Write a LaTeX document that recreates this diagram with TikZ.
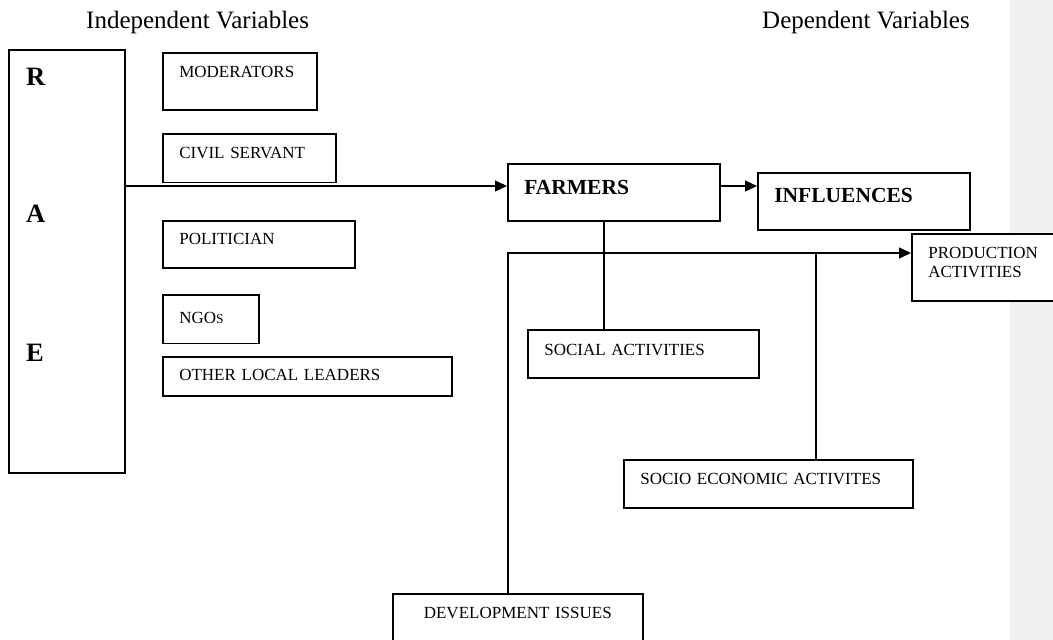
\documentclass[tikz,border=0pt]{standalone}
\usepackage{fontspec}
\setmainfont{Liberation Serif}
\usetikzlibrary{arrows.meta}

\begin{document}
\begin{tikzpicture}[x=1pt, y=-1pt,
  box/.style={draw, fill=white, line width=1.6pt, anchor=north west, align=left,
    inner xsep=16.5pt, inner ysep=0pt, font=\fontsize{17}{19}\selectfont},
  bigbox/.style={box, font=\fontsize{21.5}{24}\selectfont\bfseries},
  letter/.style={anchor=base west, inner sep=0pt, font=\fontsize{26.5}{28}\selectfont\bfseries},
  heading/.style={anchor=base west, inner sep=0pt, font=\fontsize{25}{28}\selectfont},
  link/.style={line width=1.3pt},
  arrow/.style={link, -{Triangle[length=12pt, width=11pt]}}]

% Define colors
\definecolor{margin}{gray}{0.94}

% Page and side band
\clip (0,0) rectangle (1053,640);
\fill[margin] (1010,0) rectangle (1053,640);

% Headings
\node[heading] (indep) at (86,28) {Independent Variables};
\node[heading] (dep) at (762,28) {Dependent Variables};

% Left column
\node[box, minimum width=116pt, minimum height=423pt, inner sep=0pt] (rae) at (8,49) {};
\node[letter] (r) at (26,85) {R};
\node[letter] (a) at (26,222.7) {A};
\node[letter] (e) at (26,361) {E};

\node[box, text width=121pt, text height=24.7pt, text depth=32.6pt] (mod) at (162,52) {MODERATORS};
\node[box, text width=140pt, text height=24pt, text depth=24.4pt] (civil) at (162,133.3) {CIVIL SERVANT};
\node[box, text width=159pt, text height=23.3pt, text depth=24pt] (pol) at (162,220) {POLITICIAN};
\node[box, text width=63pt, text height=28.7pt, text depth=20pt] (ngo) at (162,294) {NGO{\fontsize{13.5}{15}\selectfont S}};
\node[box, text width=256pt, text height=24pt, text depth=15pt] (leaders) at (162,356) {OTHER LOCAL LEADERS};

% Right side
\node[bigbox, text width=179pt, text height=30.3pt, text depth=26.7pt] (farm) at (507,163) {FARMERS};
\node[bigbox, text width=179pt, text height=29.7pt, text depth=27.3pt] (infl) at (757,172) {INFLUENCES};
\node[box, text width=117pt, text height=25pt, text depth=42pt] (prod) at (911,233) {PRODUCTION\\ACTIVITIES};
\node[box, text width=198pt, text height=25.3pt, text depth=22.7pt] (social) at (527,329) {SOCIAL ACTIVITIES};
\node[box, text width=256pt, text height=24.3pt, text depth=23.7pt] (socio) at (623,459) {SOCIO ECONOMIC ACTIVITES};
\node[box, align=center, text width=217pt, text height=24.3pt, text depth=42.7pt] (dev) at (392,593) {DEVELOPMENT ISSUES};

% Connectors
\coordinate (row) at (0,186);
\coordinate (drop) at (604,0);
\coordinate (bus) at (508,253);
\coordinate (tee) at (816,253);

\draw[arrow] (rae.east |- row) -- (farm.west |- row);
\draw[arrow] (farm.east |- row) -- (infl.west |- row);
\draw[link] (farm.south -| drop) -- (social.north -| drop);
\draw[arrow] (dev.north -| bus) -- (bus) -- (prod.west |- bus);
\draw[link] (tee) -- (socio.north -| tee);

\end{tikzpicture}
\end{document}
